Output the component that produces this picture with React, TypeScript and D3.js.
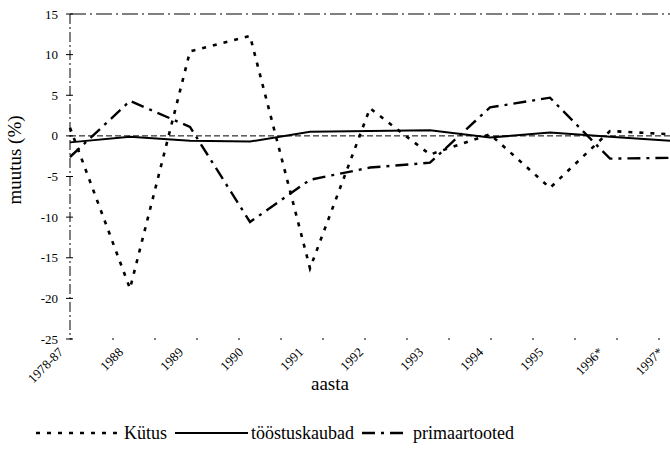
import * as d3 from "d3";

const years = ["1978-87", "1988", "1989", "1990", "1991", "1992", "1993", "1994", "1995", "1996*", "1997*"];
const kytus = [1.0, -18.8, 10.4, 12.3, -16.3, 3.4, -2.3, 0.2, -6.4, 0.6, 0.2];
const toostuskaubad = [-0.8, -0.1, -0.6, -0.7, 0.5, 0.6, 0.7, -0.2, 0.4, -0.1, -0.6];
const primaartooted = [-2.6, 4.3, 1.1, -10.6, -5.4, -3.9, -3.3, 3.5, 4.7, -2.8, -2.7];
const yTicks = [15, 10, 5, 0, -5, -10, -15, -20, -25];

const W = 670;
const H = 467;
const margin = { top: 14, left: 70, right: 0, bottom: 128 };
const serif = "Liberation Serif, Times New Roman, serif";

const series = [
  { name: "Kütus", values: kytus, dash: "4,7", width: 2.6 },
  { name: "tööstuskaubad", values: toostuskaubad, dash: null, width: 2 },
  { name: "primaartooted", values: primaartooted, dash: "13,6,3,6", width: 2.4 },
];

export default function App() {
  const x = d3.scalePoint().domain(years).range([margin.left, W - margin.right]);
  const y = d3.scaleLinear().domain([-25, 15]).range([H - margin.bottom, margin.top]);
  const line = d3
    .line<number>()
    .x((_, i) => x(years[i]))
    .y((d) => y(d));

  return (
    <svg
      width={W}
      height={H}
      style={{ position: "absolute", left: 0, top: 0, background: "#fff", fontFamily: serif }}
    >
      {/* frame lines */}
      <line x1={margin.left} x2={W} y1={y(15)} y2={y(15)} stroke="#000" strokeWidth={1} strokeDasharray="16,4,2,4" />
      <line x1={margin.left} x2={W} y1={y(0)} y2={y(0)} stroke="#000" strokeWidth={1} strokeDasharray="6,3" />
      <line x1={margin.left} x2={W} y1={y(-25)} y2={y(-25)} stroke="#000" strokeWidth={1} strokeDasharray="2,40" />
      <line x1={margin.left} x2={margin.left} y1={y(15)} y2={y(-25)} stroke="#000" strokeWidth={1} strokeDasharray="10,3,2,3" />

      {yTicks.map((t) => (
        <g key={t} transform={`translate(${margin.left},${y(t)})`}>
          <line x1={-4} x2={3} stroke="#000" />
          <text x={-12} dy="0.35em" textAnchor="end" fontSize={13} style={{ fontFamily: serif }}>
            {t}
          </text>
        </g>
      ))}

      {years.map((yr) => (
        <text
          key={yr}
          transform={`translate(${x(yr) - 6},${y(-25) + 14}) rotate(-45)`}
          textAnchor="end"
          fontSize={13}
          style={{ fontFamily: serif }}
        >
          {yr}
        </text>
      ))}

      {series.map((s) => (
        <path
          key={s.name}
          d={line(s.values) || ""}
          fill="none"
          stroke="#000"
          strokeWidth={s.width}
          strokeDasharray={s.dash || undefined}
        />
      ))}

      <text x={330} y={390} textAnchor="middle" fontSize={19} style={{ fontFamily: serif }}>
        aasta
      </text>
      <text transform={`translate(21,160) rotate(-90)`} textAnchor="middle" fontSize={19} style={{ fontFamily: serif }}>
        muutus (%)
      </text>

      {/* legend */}
      <g fontSize={18} style={{ fontFamily: serif }}>
        <line x1={36} x2={120} y1={433} y2={433} stroke="#000" strokeWidth={2.6} strokeDasharray="4,7" />
        <text x={124} y={439}>Kütus</text>
        <line x1={175} x2={248} y1={433} y2={433} stroke="#000" strokeWidth={2} />
        <text x={251} y={439}>tööstuskaubad</text>
        <line x1={362} x2={406} y1={433} y2={433} stroke="#000" strokeWidth={2.4} strokeDasharray="13,6,3,6" />
        <text x={413} y={439}>primaartooted</text>
      </g>
    </svg>
  );
}
